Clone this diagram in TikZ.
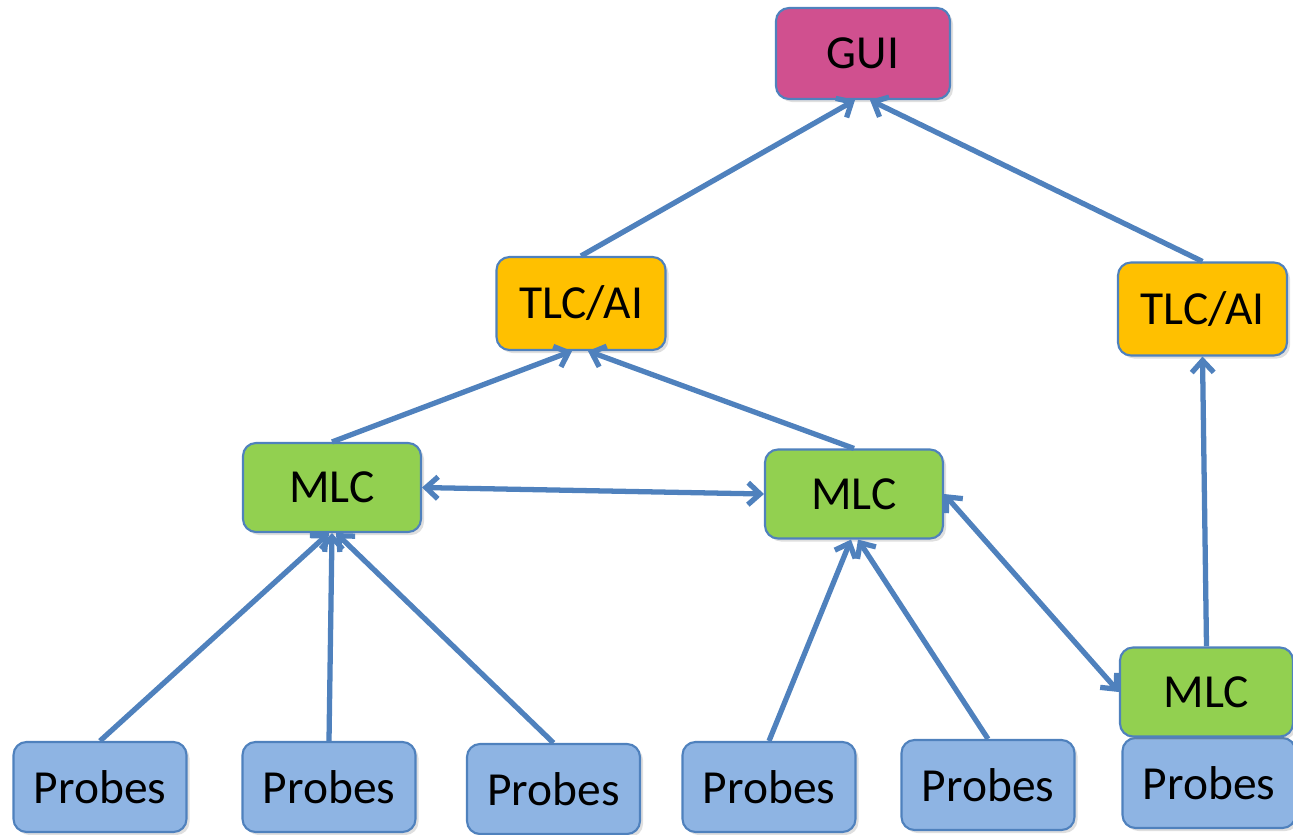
\documentclass[tikz,border=0pt]{standalone}
\usepackage{fontspec}
\setmainfont{Carlito}
\usepackage{tikz}
\usetikzlibrary{arrows.meta}
\usetikzlibrary{shadows}
\usepackage{xcolor}
\definecolor{edgeblue}{HTML}{4F81BD}
\definecolor{guifill}{HTML}{D0508F}
\definecolor{tlcfill}{HTML}{FFC000}
\definecolor{mlcfill}{HTML}{92D050}
\definecolor{probefill}{HTML}{8EB4E3}

\begin{document}
\begin{tikzpicture}[
    box/.style={draw=edgeblue, line width=1.2pt, rounded corners=0.26cm,
        minimum width=3.46cm, minimum height=1.8cm, inner sep=0pt,
        font=\fontsize{27}{32}\selectfont,
        drop shadow={opacity=0.25, shadow xshift=0.06cm, shadow yshift=-0.06cm}},
    gui/.style={box, fill=guifill, minimum width=3.48cm, minimum height=1.82cm},
    tlc/.style={box, fill=tlcfill, minimum width=3.38cm, minimum height=1.86cm},
    mlc/.style={box, fill=mlcfill, minimum width=3.56cm, minimum height=1.78cm},
    probe/.style={box, fill=probefill},
    link/.style={draw=edgeblue, line width=3pt,
        -{Straight Barb[length=0.24cm, width=0.44cm, line width=3pt]}},
    twoway/.style={link, {Straight Barb[length=0.24cm, width=0.44cm, line width=3pt]}-{Straight Barb[length=0.24cm, width=0.44cm, line width=3pt]}}
]
    \useasboundingbox (0,0) rectangle (25.86,-16.68);
    % boxes
    \node[gui] (gui) at (17.26,-1.07) {GUI};
    \node[tlc] (tlcL) at (11.62,-6.07) {TLC/AI};
    \node[tlc] (tlcR) at (24.05,-6.18) {TLC/AI};
    \node[mlc] (mlcL) at (6.64,-9.75) {MLC};
    \node[mlc] (mlcM) at (17.08,-9.88) {MLC};
    \node[probe] (prR) at (24.18,-15.66) {Probes};
    \node[mlc, minimum width=3.46cm] (mlcR) at (24.13,-13.84) {MLC};
    \node[probe] (pr1) at (2.0,-15.74) {Probes};
    \node[probe] (pr2) at (6.58,-15.74) {Probes};
    \node[probe] (pr3) at (11.07,-15.78) {Probes};
    \node[probe] (pr4) at (15.38,-15.74) {Probes};
    \node[probe] (pr5) at (19.76,-15.70) {Probes};
    % links
    \draw[link] (tlcL.north) -- ([xshift=-0.16cm]gui.south);
    \draw[link] (tlcR.north) -- ([xshift=0.14cm]gui.south);
    \draw[link] (mlcL.north) -- ([xshift=-0.18cm]tlcL.south);
    \draw[link] (mlcM.north) -- ([xshift=0.14cm]tlcL.south);
    \draw[link] (mlcR.north) -- (tlcR.south);
    \draw[twoway] (mlcL.east) -- (mlcM.west);
    \draw[twoway] (mlcM.east) -- (mlcR.west);
    \draw[link] (pr1.north) -- ([xshift=-0.06cm]mlcL.south);
    \draw[link] (pr2.north) -- (mlcL.south);
    \draw[link] (pr3.north) -- ([xshift=0.08cm]mlcL.south);
    \draw[link] (pr4.north) -- ([xshift=-0.06cm]mlcM.south);
    \draw[link] (pr5.north) -- ([xshift=0.08cm]mlcM.south);
\end{tikzpicture}
\end{document}
